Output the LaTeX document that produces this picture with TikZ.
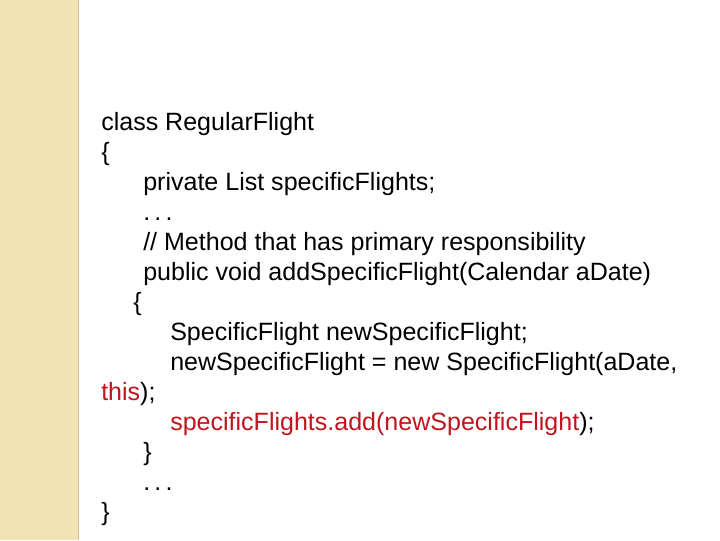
\documentclass[tikz,border=0pt]{standalone}
\usepackage{fontspec}
\setmainfont{Liberation Sans}
\usepackage{tikz}
\usetikzlibrary{positioning}
\definecolor{strip}{RGB}{243,226,178}
\definecolor{codered}{RGB}{192,20,30}
\begin{document}
\begin{tikzpicture}[x=0.025cm,y=-0.025cm,
  code/.style={anchor=base west,inner sep=0pt,font=\fontsize{17.8}{20}\selectfont}]
\useasboundingbox (0,0) rectangle (720,540);
\fill[white] (0,0) rectangle (720,540);
\fill[strip] (0,0) rectangle (78,540);
\draw[strip!85!black,line width=0.6pt] (78,0) -- (78,540);
\node[code] (l1) at (101,130) {class RegularFlight};
\node[code] (l2) at (101,160) {\{};
\node[code] (l3) at (143,190) {private List specificFlights;};
\node[code] (l4) at (143,220) {.\,.\,.};
\node[code] (l5) at (143,250) {// Method that has primary responsibility};
\node[code] (l6) at (143,280) {public void addSpecificFlight(Calendar aDate)};
\node[code] (l7) at (133,310) {\{};
\node[code] (l8) at (170,340) {SpecificFlight newSpecificFlight;};
\node[code] (l9) at (170,370) {newSpecificFlight = new SpecificFlight(aDate,};
\node[code] (l10) at (101,400) {\textcolor{codered}{this});};
\node[code] (l11) at (170,430) {\textcolor{codered}{specificFlights.add(newSpecificFlight});};
\node[code] (l12) at (143,460) {\}};
\node[code] (l13) at (143,490) {.\,.\,.};
\node[code] (l14) at (101,520) {\}};
\end{tikzpicture}
\end{document}
